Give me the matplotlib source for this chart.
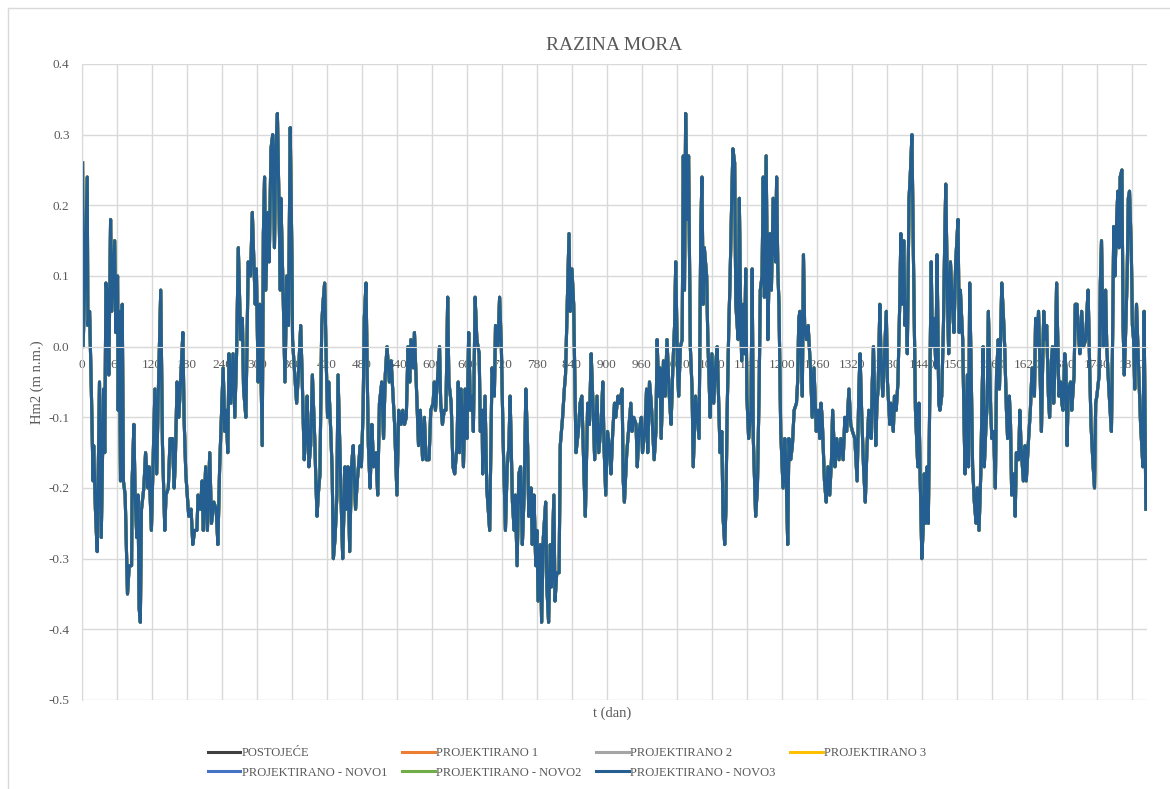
import matplotlib
matplotlib.use("Agg")
import matplotlib.pyplot as plt
from matplotlib.lines import Line2D

plt.rcParams['font.family'] = ['Liberation Serif', 'DejaVu Serif']

# ocitane vrijednosti razine mora (dan, m n.m.)
dani = [
    1, 2, 9, 10, 13, 16, 19, 20, 23, 26, 30, 33, 37, 39, 41, 44, 46, 49, 51, 56,
    58, 61, 62, 64, 66, 69, 71, 74, 78, 81, 85, 86, 89, 91, 94, 96, 98, 100, 102, 106,
    109, 113, 115, 119, 123, 125, 128, 131, 135, 138, 142, 144, 148, 151, 155, 158, 160, 163, 166, 169,
    173, 175, 178, 183, 187, 190, 193, 197, 199, 203, 206, 208, 212, 215, 219, 222, 226, 230, 233, 236,
    239, 242, 245, 247, 250, 252, 255, 259, 262, 265, 268, 272, 275, 277, 281, 285, 289, 292, 297,
    299, 302, 305, 309, 311, 313, 315, 319, 321, 324, 327, 330, 332, 335, 338, 340, 341, 345, 348, 351,
    354, 357, 360, 361, 364, 368, 371, 375, 378, 381, 384, 386, 389, 392, 395, 399, 401, 403, 405, 408,
    411, 413, 416, 419, 421, 423, 427, 429, 431, 434, 437, 439, 442, 445, 447, 451, 453, 456, 459, 462,
    465, 469, 472, 477, 479, 482, 484, 487, 489, 491, 494, 497, 500, 504, 507, 510, 514, 517, 520, 523,
    527, 530, 534, 536, 540, 543, 547, 550, 553, 556, 559, 562, 564, 568, 570, 573, 577, 580, 584, 587,
    590, 595, 598,
    602, 604, 606, 610, 613, 615, 618, 621, 624, 627, 629, 633, 636, 639, 643, 645, 647, 650, 654, 657,
    660, 663, 666, 669, 671, 674, 677, 681, 683, 686, 687, 691, 694, 699, 701, 703, 707, 709, 713, 716,
    719, 722, 726, 729, 732, 734, 738, 741, 743, 746, 749, 752, 755, 758, 761, 764, 766, 770, 772, 775,
    778, 780, 782, 786, 788, 791, 795, 797, 800, 803, 805, 809, 811, 814, 818, 820, 824, 827, 829, 832,
    835, 837, 840, 843, 845, 847, 851, 854, 857, 861, 863, 867, 870, 873, 876, 879, 883, 886, 890, 893,
    895, 898,
    901, 904, 907, 910, 913, 915, 919, 922, 926, 928, 930, 934, 937, 941, 943, 946, 950, 952, 955, 959,
    961, 965, 968, 970, 973, 976, 978, 981, 984, 986, 989, 991, 993, 997, 1000, 1003, 1007, 1010, 1013, 1016,
    1018, 1021, 1023, 1026, 1029, 1031, 1033, 1035, 1038, 1040, 1043, 1046, 1048, 1052, 1055, 1058, 1061, 1063, 1065, 1067,
    1071, 1073, 1075, 1077, 1080, 1083, 1087, 1089, 1091, 1094, 1097, 1099, 1102, 1104, 1106, 1109, 1111, 1113, 1116, 1119,
    1121, 1125, 1127, 1129, 1131, 1134, 1136, 1138, 1140, 1143, 1147, 1149, 1151, 1155, 1158, 1161, 1163, 1166, 1168, 1170,
    1173, 1176, 1179, 1182, 1185, 1189, 1191, 1193, 1195, 1198,
    1200, 1202, 1205, 1207, 1210, 1212, 1215, 1218, 1221, 1225, 1227, 1229, 1231, 1235, 1237, 1239, 1242, 1245, 1249, 1252,
    1255, 1259, 1262, 1265, 1267, 1269, 1273, 1276, 1279, 1282, 1285, 1287, 1291, 1294, 1298, 1301, 1305, 1308, 1311, 1315,
    1318, 1321, 1325, 1329, 1332, 1334, 1337, 1340, 1343, 1346, 1349, 1353, 1355, 1357, 1361, 1363, 1365, 1368, 1370, 1373,
    1376, 1379, 1381, 1385, 1387, 1391, 1393, 1396, 1399, 1402, 1404, 1406, 1409, 1411, 1413, 1415, 1418, 1420, 1423, 1425,
    1427, 1429, 1433, 1435, 1437, 1440, 1442, 1444, 1446, 1449, 1451, 1453, 1456, 1458, 1461, 1464, 1466, 1469, 1471, 1474,
    1477, 1479, 1481, 1484, 1486, 1489, 1493, 1495, 1498,
    1502, 1504, 1506, 1510, 1512, 1514, 1518, 1520, 1522, 1525, 1527, 1530, 1533, 1535, 1538, 1541, 1543, 1545, 1547, 1550,
    1552, 1554, 1558, 1560, 1563, 1566, 1568, 1571, 1573, 1575, 1577, 1580, 1582, 1585, 1587, 1590, 1592, 1594, 1598, 1600,
    1602, 1606, 1608, 1610, 1614, 1617, 1619, 1623, 1626, 1629, 1631, 1633, 1635, 1638, 1640, 1642, 1645, 1647, 1649, 1651,
    1654, 1657, 1659, 1662, 1664, 1666, 1669, 1671, 1673, 1675, 1678, 1680, 1682, 1685, 1687, 1689, 1691, 1695, 1697, 1701,
    1703, 1706, 1709, 1711, 1714, 1717, 1721, 1723, 1725, 1728, 1730, 1733, 1736, 1738, 1740, 1744, 1746, 1748, 1751, 1753,
    1755, 1757, 1760, 1762, 1765, 1767, 1769, 1771, 1774, 1776, 1778, 1780, 1783, 1785, 1787, 1789, 1792, 1794, 1796, 1799,
    1801, 1803, 1805, 1808, 1810, 1812, 1815, 1817, 1819, 1821, 1824,
]

razina = [
    0.26, 0.00, 0.24, 0.03, 0.05, -0.06, -0.19, -0.14, -0.23, -0.29, -0.05, -0.27, -0.06, -0.15, 0.09, 0.07, -0.04, 0.18, 0.05, 0.15,
    0.02, 0.10, -0.09, 0.05, -0.19, 0.06, -0.19, -0.21, -0.35, -0.31, -0.31, -0.19, -0.11, -0.21, -0.27, -0.21, -0.37, -0.39, -0.23, -0.20,
    -0.15, -0.20, -0.17, -0.26, -0.13, -0.06, -0.18, -0.06, 0.08, -0.14, -0.26, -0.21, -0.20, -0.13, -0.13, -0.20, -0.16, -0.05, -0.10, -0.05,
    0.02, -0.10, -0.18, -0.24, -0.23, -0.28, -0.26, -0.26, -0.21, -0.23, -0.19, -0.26, -0.17, -0.26, -0.15, -0.25, -0.22, -0.23, -0.28, -0.17,
    -0.10, -0.03, -0.12, -0.09, -0.15, -0.01, -0.08, -0.01, -0.10, -0.01, 0.14, 0.01, 0.04, -0.06, -0.10, 0.12, 0.10, 0.19, 0.06,
    0.11, -0.05, 0.06, -0.14, 0.16, 0.24, 0.08, 0.19, 0.12, 0.28, 0.30, 0.14, 0.27, 0.33, 0.19, 0.08, 0.21, 0.07, -0.05, 0.10,
    0.03, 0.31, 0.12, 0.01, -0.03, -0.08, -0.04, 0.03, -0.06, -0.16, -0.12, -0.07, -0.17, -0.14, -0.04, -0.13, -0.19, -0.24, -0.21, -0.18,
    0.03, 0.06, 0.09, -0.03, -0.10, -0.05, -0.13, -0.18, -0.30, -0.27, -0.21, -0.04, -0.14, -0.24, -0.30, -0.17, -0.23, -0.17, -0.29, -0.17,
    -0.14, -0.23, -0.19, -0.14, -0.17, -0.09, 0.04, 0.09, -0.04, -0.14, -0.20, -0.11, -0.17, -0.15, -0.21, -0.08, -0.05, -0.13, -0.04, 0.00,
    -0.05, -0.02, -0.08, -0.11, -0.21, -0.09, -0.11, -0.09, -0.11, -0.10, 0.00, -0.05, 0.01, -0.03, 0.02, -0.05, -0.14, -0.09, -0.16, -0.10,
    -0.16, -0.16, -0.09,
    -0.08, -0.05, -0.09, -0.04, 0.00, -0.08, -0.11, -0.09, -0.09, 0.07, -0.05, -0.08, -0.17, -0.18, -0.14, -0.05, -0.15, -0.06, -0.17, -0.06,
    -0.13, 0.02, -0.09, -0.07, -0.12, 0.07, 0.01, -0.01, -0.12, -0.09, -0.18, -0.07, -0.20, -0.26, -0.15, -0.03, -0.07, 0.03, 0.00, 0.07,
    0.00, -0.13, -0.26, -0.17, -0.14, -0.07, -0.22, -0.26, -0.21, -0.31, -0.18, -0.17, -0.28, -0.21, -0.06, -0.14, -0.24, -0.20, -0.28, -0.21,
    -0.31, -0.26, -0.36, -0.28, -0.39, -0.27, -0.22, -0.34, -0.39, -0.28, -0.34, -0.21, -0.36, -0.32, -0.32, -0.14, -0.10, -0.06, -0.04, 0.06,
    0.16, 0.05, 0.11, 0.06, -0.05, -0.15, -0.12, -0.08, -0.07, -0.19, -0.24, -0.08, -0.11, -0.01, -0.08, -0.16, -0.07, -0.15, -0.11, -0.05,
    -0.14, -0.21,
    -0.12, -0.14, -0.18, -0.12, -0.08, -0.10, -0.07, -0.08, -0.06, -0.19, -0.22, -0.15, -0.12, -0.08, -0.12, -0.10, -0.11, -0.17, -0.12, -0.10,
    -0.15, -0.12, -0.06, -0.15, -0.05, -0.08, -0.11, -0.16, -0.12, 0.01, -0.07, -0.03, -0.13, -0.02, -0.07, 0.01, -0.07, -0.11, -0.03, 0.03,
    0.12, -0.03, -0.07, 0.00, 0.01, 0.27, 0.08, 0.33, 0.18, 0.27, 0.00, -0.06, -0.17, -0.07, -0.10, -0.13, 0.17, 0.24, 0.06, 0.14,
    0.10, 0.01, -0.04, -0.10, -0.01, -0.08, -0.02, 0.00, -0.06, -0.15, -0.12, -0.24, -0.28, -0.23, -0.10, 0.03, 0.09, 0.17, 0.28, 0.26,
    0.06, 0.01, 0.21, 0.07, -0.02, 0.06, -0.01, 0.11, -0.07, -0.13, -0.09, 0.11, -0.13, -0.24, -0.20, -0.06, 0.08, 0.10, 0.24, 0.07,
    0.27, 0.01, 0.16, 0.08, 0.21, 0.12, 0.24, 0.11, 0.06, -0.12,
    -0.16, -0.20, -0.13, -0.17, -0.28, -0.13, -0.16, -0.14, -0.09, -0.08, -0.05, 0.04, 0.05, -0.07, 0.13, 0.03, 0.01, 0.03, -0.03, -0.10,
    -0.03, -0.12, -0.09, -0.13, -0.08, -0.10, -0.19, -0.22, -0.17, -0.21, -0.16, -0.09, -0.17, -0.13, -0.16, -0.13, -0.16, -0.10, -0.12, -0.06,
    -0.11, -0.12, -0.13, -0.19, -0.06, -0.01, -0.10, -0.17, -0.22, -0.14, -0.09, -0.13, -0.05, 0.00, -0.14, -0.08, -0.06, 0.06, -0.02, -0.07,
    -0.01, 0.05, -0.05, -0.11, -0.08, -0.12, -0.07, -0.09, -0.05, 0.06, 0.16, 0.06, 0.15, 0.03, 0.06, -0.01, 0.21, 0.24, 0.30, 0.16,
    0.04, -0.09, -0.17, -0.08, -0.18, -0.30, -0.26, -0.18, -0.25, -0.17, -0.25, -0.11, 0.12, 0.00, 0.04, -0.03, 0.13, -0.08, -0.09, -0.07,
    0.03, 0.14, 0.23, 0.06, -0.01, 0.12, 0.05, 0.02, 0.12,
    0.18, 0.02, 0.08, 0.01, -0.09, -0.18, -0.04, -0.17, 0.09, -0.06, -0.17, -0.22, -0.25, -0.20, -0.26, -0.18, -0.08, 0.00, -0.17, -0.11,
    -0.08, 0.05, -0.09, -0.13, -0.12, -0.20, -0.04, 0.01, -0.06, 0.01, 0.09, 0.04, 0.00, -0.09, -0.13, -0.07, -0.11, -0.21, -0.18, -0.24,
    -0.15, -0.16, -0.09, -0.14, -0.19, -0.14, -0.19, -0.13, -0.09, -0.03, -0.05, -0.07, 0.04, 0.00, 0.05, -0.01, -0.12, -0.03, 0.05, 0.01,
    0.03, -0.07, -0.10, -0.02, 0.00, -0.08, -0.01, 0.09, 0.01, -0.07, -0.05, -0.08, -0.09, -0.01, -0.03, -0.14, -0.06, -0.05, -0.09, -0.04,
    0.06, 0.06, 0.01, -0.01, 0.05, 0.00, 0.01, 0.05, 0.08, -0.04, -0.11, -0.16, -0.20, -0.08, -0.07, -0.04, 0.09, 0.15, 0.00, 0.03,
    0.08, 0.00, -0.05, -0.08, -0.12, 0.01, 0.17, 0.10, 0.18, 0.22, 0.14, 0.24, 0.25, 0.03, -0.04, 0.01, 0.10, 0.21, 0.22, 0.14,
    0.03, 0.01, -0.06, 0.06, 0.01, -0.04, -0.11, -0.14, -0.17, 0.05, -0.23,
]

serije = ['POSTOJEĆE', 'PROJEKTIRANO 1', 'PROJEKTIRANO 2', 'PROJEKTIRANO 3',
          'PROJEKTIRANO - NOVO1', 'PROJEKTIRANO - NOVO2', 'PROJEKTIRANO - NOVO3']
boje = ['#404040', '#ED7D31', '#A5A5A5', '#FFC000', '#4472C4', '#70AD47', '#255E91']

x_tickovi = list(range(0, 1801, 60))
y_tickovi = [0.4, 0.3, 0.2, 0.1, 0.0, -0.1, -0.2, -0.3, -0.4, -0.5]

siva = '#595959'

fig = plt.figure(figsize=(11.7, 7.89), dpi=100)
ax = fig.add_axes([82 / 1170, 1 - 700 / 789, (1147 - 82) / 1170, (700 - 64) / 789])

# sve serije imaju iste vrijednosti, zadnja (NOVO3) je na vrhu
for naziv, boja in zip(serije, boje):
    ax.plot(dani, razina, color=boja, lw=2.2, label=naziv)

ax.set_xticks(x_tickovi)
ax.set_yticks(y_tickovi)
ax.set_yticklabels([f'{v:.1f}' for v in y_tickovi])
ax.set_xlim(0, 1826)
ax.set_ylim(-0.5, 0.4)
ax.grid(True, color='#D9D9D9', lw=1)
ax.set_axisbelow(True)

ax.spines['bottom'].set_position(('data', 0))
ax.spines['bottom'].set_color('#D9D9D9')
ax.spines['left'].set_color('#D9D9D9')
ax.spines['top'].set_visible(False)
ax.spines['right'].set_visible(False)
ax.tick_params(length=0, colors=siva, labelsize=9.5)
ax.tick_params(axis='x', pad=9)
ax.tick_params(axis='y', pad=9)

ax.set_title('RAZINA MORA', fontsize=14, color=siva, pad=10)
ax.set_ylabel('Hm2 (m n.m.)', fontsize=10.5, color=siva, labelpad=3)
fig.text(612 / 1170, 1 - 713 / 789, 't (dan)', fontsize=10.5, color=siva,
         ha='center', va='center')

# legenda ide po redovima: preslozi za matplotlib (puni po stupcima)
redoslijed = [0, 4, 1, 5, 2, 6, 3]
ruke = [Line2D([], [], color=boje[i], lw=2.2) for i in redoslijed]
nazivi = [serije[i] for i in redoslijed]
fig.legend(ruke, nazivi, loc='center', bbox_to_anchor=(567 / 1170, 1 - 763 / 789),
           ncol=4, frameon=False, fontsize=9, labelcolor=siva, handlelength=2.6,
           handletextpad=0.1, columnspacing=1.2, borderaxespad=0, labelspacing=0.6)

# okvir grafikona
fig.add_artist(Line2D([7.5 / 1170, 7.5 / 1170], [0, 1 - 8 / 789], color='#D9D9D9', lw=1))
fig.add_artist(Line2D([7.5 / 1170, 1], [1 - 8 / 789, 1 - 8 / 789], color='#D9D9D9', lw=1))

fig.savefig('out.png', dpi=100)
